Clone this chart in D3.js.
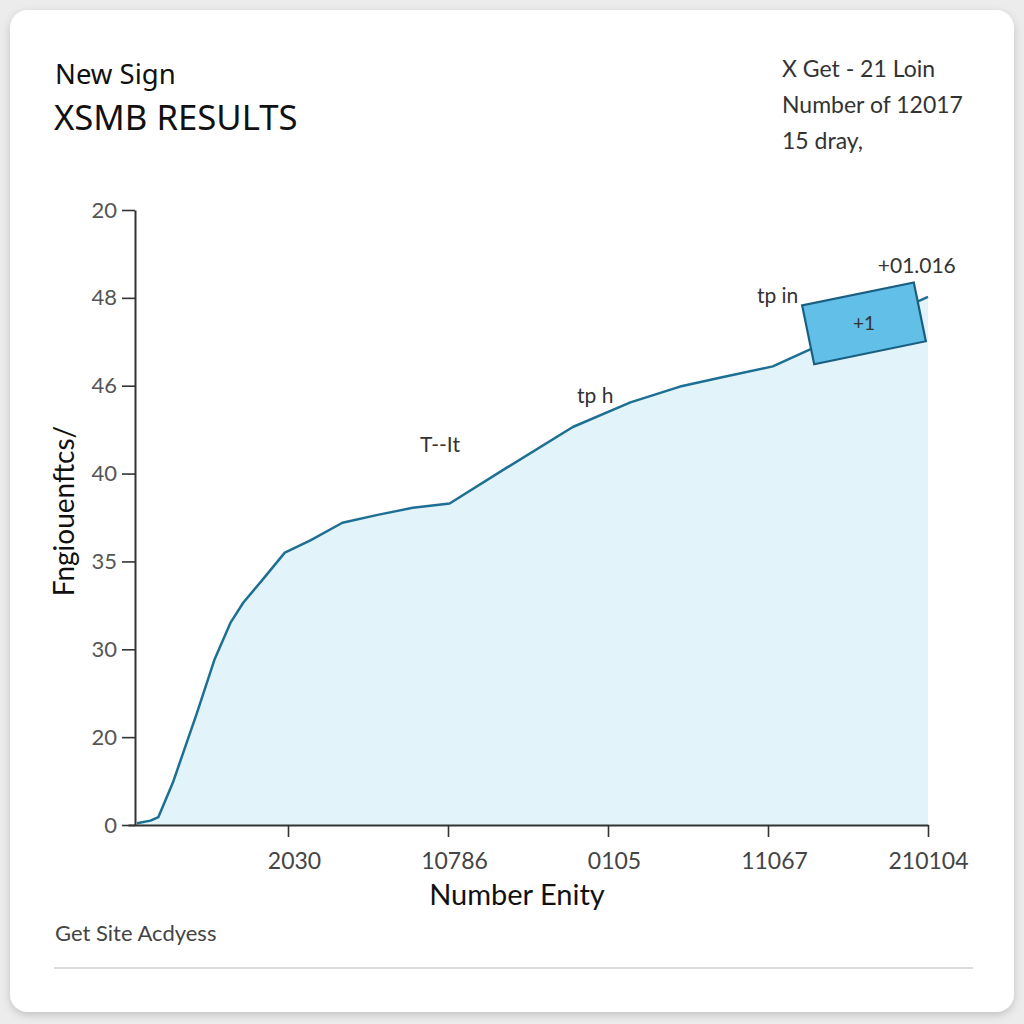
<!DOCTYPE html>
<html><head><meta charset="utf-8">
<script src="https://cdn.jsdelivr.net/npm/d3@7/dist/d3.min.js"></script>
<style>
html,body{margin:0;padding:0;background:#ececec;}
svg{display:block;}
</style></head>
<body>
<svg id="c" width="1024" height="1024"></svg>
<script>
// ---- data ----
const xValues = [0.056,0.14,0.19,0.28,0.43,0.54,0.64,0.72,0.84,0.98,1.14,1.34,1.56,1.78,2.01,2.37,2.78,3.14,3.45,3.72,4.03,4.26,5.0];
const yValues = [0.02,0.05,0.09,0.48,1.27,1.88,2.30,2.53,2.79,3.10,3.24,3.44,3.53,3.61,3.66,4.07,4.53,4.81,4.99,5.10,5.22,5.41,6.01];
const yTickLabels = ["0","20","30","35","40","46","48","20"];
const xTickValues = [1,2,3,4,5];
const xTickLabels = ["2030","10786","0105","11067","210104"];
const titleLines = ["New Sign","XSMB RESULTS"];
const infoLines = ["X Get - 21 Loin","Number of 12017","15 dray,"];
const annotations = [
  {text:"T--It", x:1.95, y:4.25},
  {text:"tp h", x:2.92, y:4.8},
  {text:"tp in", x:4.06, y:5.94},
  {text:"+01.016", x:4.93, y:6.28}
];
const boxNote = {text:"+1", x:4.6, y:5.71, w:114, h:60, angle:-11.6};

// ---- layout ----
const svg = d3.select("#c");
const defs = svg.append("defs");
const f = defs.append("filter").attr("id","sh").attr("x","-5%").attr("y","-5%").attr("width","110%").attr("height","110%");
f.append("feDropShadow").attr("dx",0).attr("dy",3).attr("stdDeviation",4).attr("flood-color","#000").attr("flood-opacity",0.18);

svg.append("rect").attr("x",10).attr("y",10).attr("width",1004).attr("height",1002)
  .attr("rx",18).attr("fill","#fff").attr("filter","url(#sh)");

const x = d3.scaleLinear().domain([0,5]).range([128,928]);
const y = d3.scaleLinear().domain([0,7]).range([825,210]);

const data = xValues.map((v,i)=>({x:v,y:yValues[i]}));

// area
svg.append("path").datum(data)
  .attr("fill","#e3f3fa")
  .attr("d", d3.area().x(d=>x(d.x)).y0(y(0)).y1(d=>y(d.y)).curve(d3.curveLinear));
svg.append("path").datum(data)
  .attr("fill","none").attr("stroke","#1d6f93").attr("stroke-width",2.5).attr("stroke-linejoin","round")
  .attr("d", d3.line().x(d=>x(d.x)).y(d=>y(d.y)).curve(d3.curveLinear));

// y axis
const yAxis = svg.append("g").attr("transform",`translate(135,0)`)
  .call(d3.axisLeft(y).tickValues(d3.range(8)).tickFormat(i=>yTickLabels[i]).tickSize(13).tickSizeOuter(0).tickPadding(5));
yAxis.select(".domain").attr("stroke","#333").attr("stroke-width",2);
yAxis.selectAll(".tick line").attr("stroke","#333").attr("stroke-width",1.6);
yAxis.selectAll("text").attr("font-family","Lato, 'Open Sans', sans-serif").attr("font-size",22).attr("fill","#555");

// x axis
const xAxis = svg.append("g").attr("transform",`translate(0,${y(0)})`)
  .call(d3.axisBottom(x).tickValues(xTickValues).tickFormat((d,i)=>xTickLabels[i]).tickSize(12).tickSizeOuter(0).tickPadding(12));
xAxis.select(".domain").attr("stroke","#333").attr("stroke-width",2);
xAxis.selectAll(".tick line").attr("stroke","#333").attr("stroke-width",1.6);
xAxis.selectAll("text").attr("font-family","Lato, 'Open Sans', sans-serif").attr("font-size",23).attr("fill","#444").attr("dy","0.85em")
  .attr("dx",(d,i)=> i<4 ? 6 : 0);

// annotations
svg.selectAll(".ann").data(annotations).enter().append("text")
  .attr("x",d=>x(d.x)).attr("y",d=>y(d.y)).attr("text-anchor","middle")
  .attr("font-family","Lato, 'Open Sans', sans-serif").attr("font-size",21).attr("fill","#333")
  .text(d=>d.text);

const bg = svg.append("g").attr("transform",`translate(${x(boxNote.x)},${y(boxNote.y)}) rotate(${boxNote.angle})`);
bg.append("rect").attr("x",-boxNote.w/2).attr("y",-boxNote.h/2).attr("width",boxNote.w).attr("height",boxNote.h)
  .attr("fill","#62bfe8").attr("stroke","#1b5f80").attr("stroke-width",2.2);
svg.append("text").attr("x",x(boxNote.x)).attr("y",y(boxNote.y)+7).attr("text-anchor","middle")
  .attr("font-family","Lato, 'Open Sans', sans-serif").attr("font-size",19).attr("fill","#333").text(boxNote.text);

// titles
svg.append("text").attr("x",55).attr("y",84).attr("font-family","'Noto Sans', 'Open Sans', sans-serif")
  .attr("font-size",27.5).attr("fill","#111").text(titleLines[0]);
svg.append("text").attr("x",54).attr("y",130).attr("font-family","'Noto Sans', 'Open Sans', sans-serif")
  .attr("font-size",34.7).attr("fill","#111").text(titleLines[1]);

svg.selectAll(".info").data(infoLines).enter().append("text")
  .attr("x",782).attr("y",(d,i)=>77+i*36).attr("font-family","Lato, 'Open Sans', sans-serif")
  .attr("font-size",23).attr("fill","#333").text(d=>d);

// axis titles
svg.append("text").attr("transform","translate(74,511) rotate(-90)").attr("text-anchor","middle")
  .attr("font-family","Lato, 'Open Sans', sans-serif").attr("font-size",28).attr("fill","#111").text("Fngiouenftcs/");
svg.append("text").attr("x",517).attr("y",905).attr("text-anchor","middle")
  .attr("font-family","Lato, 'Open Sans', sans-serif").attr("font-size",29).attr("fill","#111").text("Number Enity");

// footer
svg.append("text").attr("x",55).attr("y",941).attr("font-family","Lato, 'Open Sans', sans-serif")
  .attr("font-size",22).attr("fill","#444").text("Get Site Acdyess");
svg.append("line").attr("x1",54).attr("x2",973).attr("y1",968).attr("y2",968).attr("stroke","#d0d0d0").attr("stroke-width",1.5);
</script>
</body></html>
